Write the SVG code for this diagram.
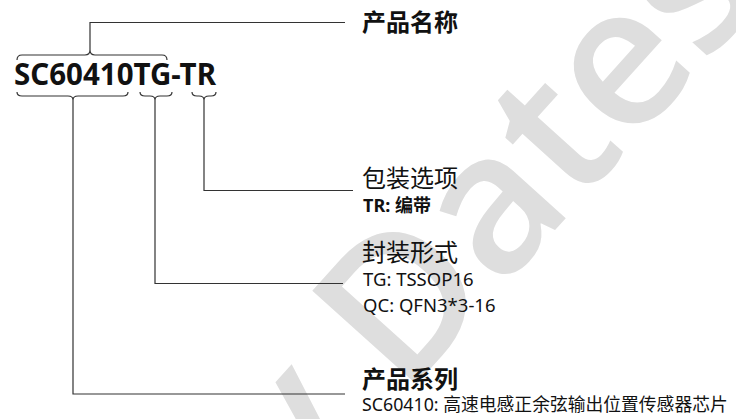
<svg xmlns="http://www.w3.org/2000/svg" width="736" height="419" viewBox="0 0 736 419">
<style>
.wm{font-family:"Open Sans","Noto Sans",sans-serif;font-size:196px;font-weight:600;fill:#dedede}
.ln{fill:none;stroke:#333;stroke-width:1.2}
.pn{font-family:"Noto Sans","Open Sans",sans-serif;font-weight:bold;font-size:29.5px;fill:#111}
.h{font-family:"Noto Sans CJK SC","Noto Sans",sans-serif;font-size:24px;fill:#111}
.hb{font-weight:bold}
.t{font-family:"Noto Sans","Noto Sans CJK SC",sans-serif;font-size:18.5px;fill:#111}
.ts{font-family:"Noto Sans","Noto Sans CJK SC",sans-serif;font-size:17.8px;fill:#111}
.tb{font-family:"Noto Sans","Noto Sans CJK SC",sans-serif;font-size:18px;font-weight:bold;fill:#111}
</style>
<rect width="736" height="419" fill="#fff"/>
<g id="watermark" transform="translate(404,398) rotate(-48)">
<text class="wm" x="0" y="0">Dates</text>
<text class="wm" x="-50" y="0" text-anchor="end">y</text>
</g>
<g id="part-number">
<text class="pn" x="14" y="85">SC60410TG-TR</text>
</g>
<g id="connectors">
<path class="ln" d="M17,60 Q17,55 22,55 H85 Q90,55 90,50 Q90,55 95,55 H162 Q167,55 167,60"/>
<path class="ln" d="M17,92 Q17,96 22,96 H68 Q73,96 73,100 Q73,96 78,96 H123 Q128,96 128,92"/>
<path class="ln" d="M140,92 Q140,96 145,96 H150 Q155,96 155,100 Q155,96 160,96 H167 Q172,96 172,92"/>
<path class="ln" d="M192,92 Q192,96 197,96 H199 Q204,96 204,100 Q204,96 209,96 H211 Q216,96 216,92"/>
<path class="ln" d="M90,50 V22.5 H345"/>
<path class="ln" d="M204,100 V190.5 H353"/>
<path class="ln" d="M155,100 V283.5 H343"/>
<path class="ln" d="M73,100 V394 H345"/>
</g>
<g id="name">
<text class="h hb" x="362" y="31">产品名称</text>
</g>
<g id="packing">
<text class="h" x="362" y="187">包装选项</text>
<text class="tb" x="363" y="212">TR: 编带</text>
</g>
<g id="package">
<text class="h" x="362" y="261">封装形式</text>
<text class="t" x="363" y="286">TG: TSSOP16</text>
<text class="t" x="363" y="312">QC: QFN3*3-16</text>
</g>
<g id="series">
<text class="h hb" x="362" y="388">产品系列</text>
<text class="ts" x="362" y="411">SC60410: 高速电感正余弦输出位置传感器芯片</text>
</g>
</svg>
